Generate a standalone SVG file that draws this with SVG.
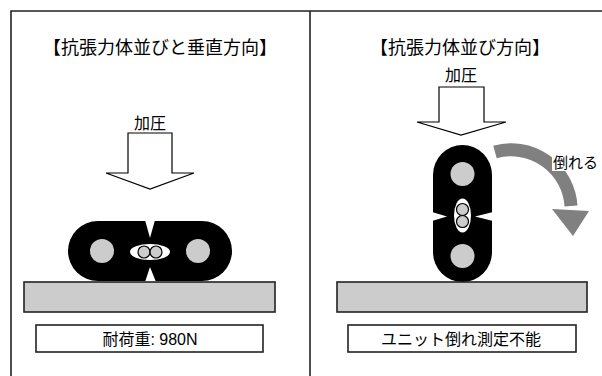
<svg xmlns="http://www.w3.org/2000/svg" width="602" height="376" viewBox="0 0 602 376">
  <style>
    .frame { stroke: #222; stroke-width: 1.6; fill: none; }
    .title { font-family: "Liberation Sans", "Noto Sans CJK JP", sans-serif; font-size: 18px; fill: #000; text-anchor: middle; }
    .lbl { font-family: "Liberation Sans", "Noto Sans CJK JP", sans-serif; font-size: 16px; fill: #000; text-anchor: middle; }
    .press { fill: #fff; stroke: #000; stroke-width: 1.2; }
    .body { fill: #000; }
    .member { fill: #ccc; }
    .core { fill: #ccc; stroke: #000; stroke-width: 1.2; }
    .base { fill: #ccc; stroke: #222; stroke-width: 1.6; }
    .box { fill: #fff; stroke: #222; stroke-width: 1.6; }
  </style>

  <!-- outer frame and divider -->
  <g id="frame">
    <path class="frame" d="M11 376 V11 H602"/>
    <path class="frame" d="M310 11 V376"/>
  </g>

  <!-- left panel: members side by side, load applied perpendicular -->
  <g id="title-left">
    <text class="title" x="160" y="54">【抗張力体並びと垂直方向】</text>
  </g>
  <g id="press-left">
    <text class="lbl" x="150" y="129">加圧</text>
    <polygon class="press" points="128,133 172,133 172,173 194,173 150,189 106,173 128,173"/>
  </g>
  <g id="cable-left">
    <rect class="body" x="68" y="221" width="164" height="60" rx="30" ry="30"/>
    <polygon fill="#fff" points="145,220 150,238 155,220"/>
    <polygon fill="#fff" points="145,282 150,267 156,282"/>
    <circle class="member" cx="102" cy="251" r="12"/>
    <circle class="member" cx="198" cy="251" r="12"/>
    <ellipse fill="#fff" cx="150" cy="252" rx="20" ry="8"/>
    <circle class="core" cx="144" cy="252" r="6"/>
    <circle class="core" cx="156" cy="252" r="6"/>
  </g>
  <g id="base-left">
    <rect class="base" x="24" y="282" width="251" height="30"/>
  </g>
  <g id="result-left">
    <rect class="box" x="36" y="325" width="227" height="27"/>
    <text class="lbl" x="150" y="345">耐荷重: 980N</text>
  </g>

  <!-- right panel: members stacked in the load direction -->
  <g id="title-right">
    <text class="title" x="460" y="54">【抗張力体並び方向】</text>
  </g>
  <g id="press-right">
    <text class="lbl" x="461" y="81">加圧</text>
    <polygon class="press" points="439,87 484,87 484,122 506,122 461,135 417,122 439,122"/>
  </g>
  <g id="cable-right">
    <rect class="body" x="433" y="145" width="59" height="137" rx="29.5" ry="30"/>
    <polygon fill="#fff" points="432,212 447,216.5 432,221"/>
    <polygon fill="#fff" points="493,212 475,216.5 493,221"/>
    <circle class="member" cx="462.5" cy="174" r="12"/>
    <circle class="member" cx="462.5" cy="256" r="12"/>
    <ellipse fill="#fff" cx="462.5" cy="215.5" rx="8.5" ry="17"/>
    <circle class="core" cx="462.5" cy="209.5" r="6"/>
    <circle class="core" cx="462.5" cy="221.5" r="6"/>
  </g>
  <g id="base-right">
    <rect class="base" x="337" y="282" width="250" height="30"/>
  </g>
  <g id="result-right">
    <rect class="box" x="348" y="325" width="228" height="27"/>
    <text class="lbl" x="461" y="345">ユニット倒れ測定不能</text>
  </g>

  <!-- toppling arrow -->
  <g id="connectors">
    <path d="M495 152 A60 60 0 0 1 571 206" fill="none" stroke="#808080" stroke-width="13"/>
    <polygon fill="#808080" points="552,209 589,211 573,236"/>
  </g>
  <g id="topple-label">
    <rect x="552" y="153" width="50" height="18" fill="#fff"/>
    <text x="553" y="168" font-family="Liberation Sans, Noto Sans CJK JP, sans-serif" font-size="15" fill="#000">倒れる</text>
  </g>
</svg>
